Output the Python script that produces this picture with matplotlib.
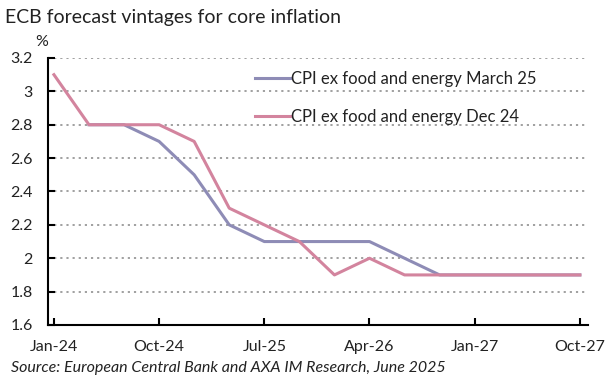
import matplotlib
matplotlib.use("Agg")
import matplotlib.pyplot as plt
import numpy as np

quarters = ["Jan-24", "Apr-24", "Jul-24", "Oct-24", "Jan-25", "Apr-25", "Jul-25", "Oct-25",
            "Jan-26", "Apr-26", "Jul-26", "Oct-26", "Jan-27", "Apr-27", "Jul-27", "Oct-27"]
march25 = [np.nan, 2.8, 2.8, 2.7, 2.5, 2.2, 2.1, 2.1, 2.1, 2.1, 2.0, 1.9, 1.9, 1.9, 1.9, 1.9]
dec24 = [3.1, 2.8, 2.8, 2.8, 2.7, 2.3, 2.2, 2.1, 1.9, 2.0, 1.9, 1.9, 1.9, 1.9, 1.9, 1.9]
tick_labels = ["Jan-24", "Oct-24", "Jul-25", "Apr-26", "Jan-27", "Oct-27"]
yticks = [1.6, 1.8, 2.0, 2.2, 2.4, 2.6, 2.8, 3.0, 3.2]
ytick_labels = ["1.6", "1.8", "2", "2.2", "2.4", "2.6", "2.8", "3", "3.2"]

plt.rcParams['font.family'] = ['Lato', 'DejaVu Sans']

fig = plt.figure(figsize=(6.15, 3.79), dpi=100)
ax = fig.add_axes([0.078, 0.1425, 0.878, 0.7045])

x = np.arange(len(quarters))
purple = "#8E8CB6"
pink = "#D3849E"
ax.plot(x, march25, color=purple, lw=2.2, label="CPI ex food and energy March 25", zorder=3)
ax.plot(x, dec24, color=pink, lw=2.2, label="CPI ex food and energy Dec 24", zorder=4)

ax.set_xlim(-0.17, 15.23)
ax.set_ylim(1.6, 3.2)
ax.set_yticks(yticks)
ax.set_yticklabels(ytick_labels)
ax.set_xticks([quarters.index(t) for t in tick_labels])
ax.set_xticklabels(tick_labels)

for s in ["top", "right"]:
    ax.spines[s].set_visible(False)
for s in ["left", "bottom"]:
    ax.spines[s].set_linewidth(1.5)
    ax.spines[s].set_color("black")

ax.tick_params(axis="both", direction="in", length=5, width=1.5, labelsize=11.5, colors="black")
ax.tick_params(axis="x", pad=11)
ax.tick_params(axis="y", pad=11)
for lab in ax.get_yticklabels() + ax.get_xticklabels():
    lab.set_color("#222222")

ax.yaxis.grid(True, linestyle=(0, (1.2, 2.2)), color="#999999", linewidth=1.3)
ax.set_axisbelow(True)

leg = ax.legend(loc="center left", bbox_to_anchor=(0.383, 0.85), frameon=False,
                fontsize=12, handlelength=2.1, handletextpad=0.05, labelspacing=1.35,
                borderpad=0, borderaxespad=0)
for t in leg.get_texts():
    t.set_color("#222222")

fig.text(0.008, 0.955, "ECB forecast vintages for core inflation", fontsize=14,
         ha="left", va="center", color="#222222")
fig.text(0.068, 0.89, "%", fontsize=11.5, ha="center", va="center", color="#222222")
fig.text(0.018, 0.03, "Source: European Central Bank and AXA IM Research, June 2025",
         fontsize=11.5, style="italic", ha="left", va="center", color="#222222")

fig.savefig("out.png", dpi=100)
